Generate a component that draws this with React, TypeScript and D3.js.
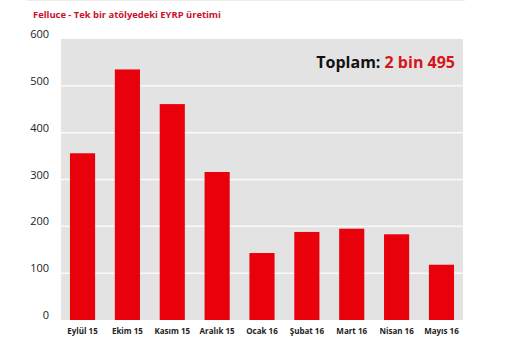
import React, { useEffect, useRef } from 'react';
import * as d3 from 'd3';

// Monthly EYRP output
const months = ['Eylül 15', 'Ekim 15', 'Kasım 15', 'Aralık 15', 'Ocak 16', 'Şubat 16', 'Mart 16', 'Nisan 16', 'Mayıs 16'];
const production = [356, 535, 461, 316, 143, 188, 195, 183, 118];
const yTicks = [0, 100, 200, 300, 400, 500, 600];

const App = () => {
  const chartRef = useRef<SVGSVGElement>(null);

  useEffect(() => {
    const width = 510;
    const height = 360;
    const margin = { top: 39, right: 47, bottom: 40, left: 61 };

    const svg = d3.select(chartRef.current);
    svg.selectAll('*').remove();

    const x = d3.scaleBand<string>()
      .domain(months)
      .range([margin.left, width - margin.right])
      .paddingInner(0.44)
      .paddingOuter(0.2);

    const y = d3.scaleLinear()
      .domain([0, 600])
      .range([height - margin.bottom, margin.top]);

    // faint rule at the very top
    svg.append('line')
      .attr('x1', 27)
      .attr('x2', 465)
      .attr('y1', 0.5)
      .attr('y2', 0.5)
      .attr('stroke', '#ececec')
      .attr('stroke-width', 1);

    // gray plot background
    svg.append('rect')
      .attr('x', margin.left)
      .attr('y', margin.top)
      .attr('width', width - margin.left - margin.right)
      .attr('height', height - margin.top - margin.bottom)
      .attr('fill', '#e3e3e3');

    // white gridlines
    svg.append('g')
      .selectAll('line')
      .data(yTicks.slice(1, -1))
      .enter()
      .append('line')
      .attr('x1', margin.left)
      .attr('x2', width - margin.right)
      .attr('y1', d => y(d))
      .attr('y2', d => y(d))
      .attr('stroke', '#fafafa')
      .attr('stroke-width', 1.5);

    // y labels
    svg.append('g')
      .selectAll('text')
      .data(yTicks)
      .enter()
      .append('text')
      .attr('x', 49)
      .attr('y', d => y(d) - 1)
      .attr('text-anchor', 'end')
      .attr('font-family', 'Open Sans, sans-serif')
      .attr('font-size', 11)
      .attr('fill', '#222')
      .text(d => d);

    // bars
    svg.append('g')
      .selectAll('rect')
      .data(production)
      .enter()
      .append('rect')
      .attr('x', (d, i) => x(months[i])!)
      .attr('y', d => y(d))
      .attr('width', x.bandwidth())
      .attr('height', d => y(0) - y(d))
      .attr('fill', '#e8000b');

    // x labels
    svg.append('g')
      .selectAll('text')
      .data(months)
      .enter()
      .append('text')
      .attr('x', d => x(d)! + x.bandwidth() / 2)
      .attr('y', 334)
      .attr('text-anchor', 'middle')
      .attr('font-family', 'Open Sans, sans-serif')
      .attr('font-weight', 'bold')
      .attr('font-size', 8)
      .attr('fill', '#222')
      .text(d => d);

    // title
    svg.append('text')
      .attr('x', 33)
      .attr('y', 18)
      .attr('font-family', 'Open Sans, sans-serif')
      .attr('font-weight', 'bold')
      .attr('font-size', 9.4)
      .attr('fill', '#c8102e')
      .text('Felluce - Tek bir atölyedeki EYRP üretimi');

    // total
    const total = svg.append('text')
      .attr('x', 455)
      .attr('y', 68)
      .attr('text-anchor', 'end')
      .attr('font-family', 'Open Sans, sans-serif')
      .attr('font-weight', 'bold')
      .attr('font-size', 16);
    total.append('tspan').attr('fill', '#111').text('Toplam: ');
    total.append('tspan').attr('fill', '#d7141a').text('2 bin 495');
  }, []);

  return (
    <svg
      ref={chartRef}
      width={510}
      height={360}
      style={{ position: 'absolute', left: 0, top: 0, background: '#fff' }}
    />
  );
};

export default App;
